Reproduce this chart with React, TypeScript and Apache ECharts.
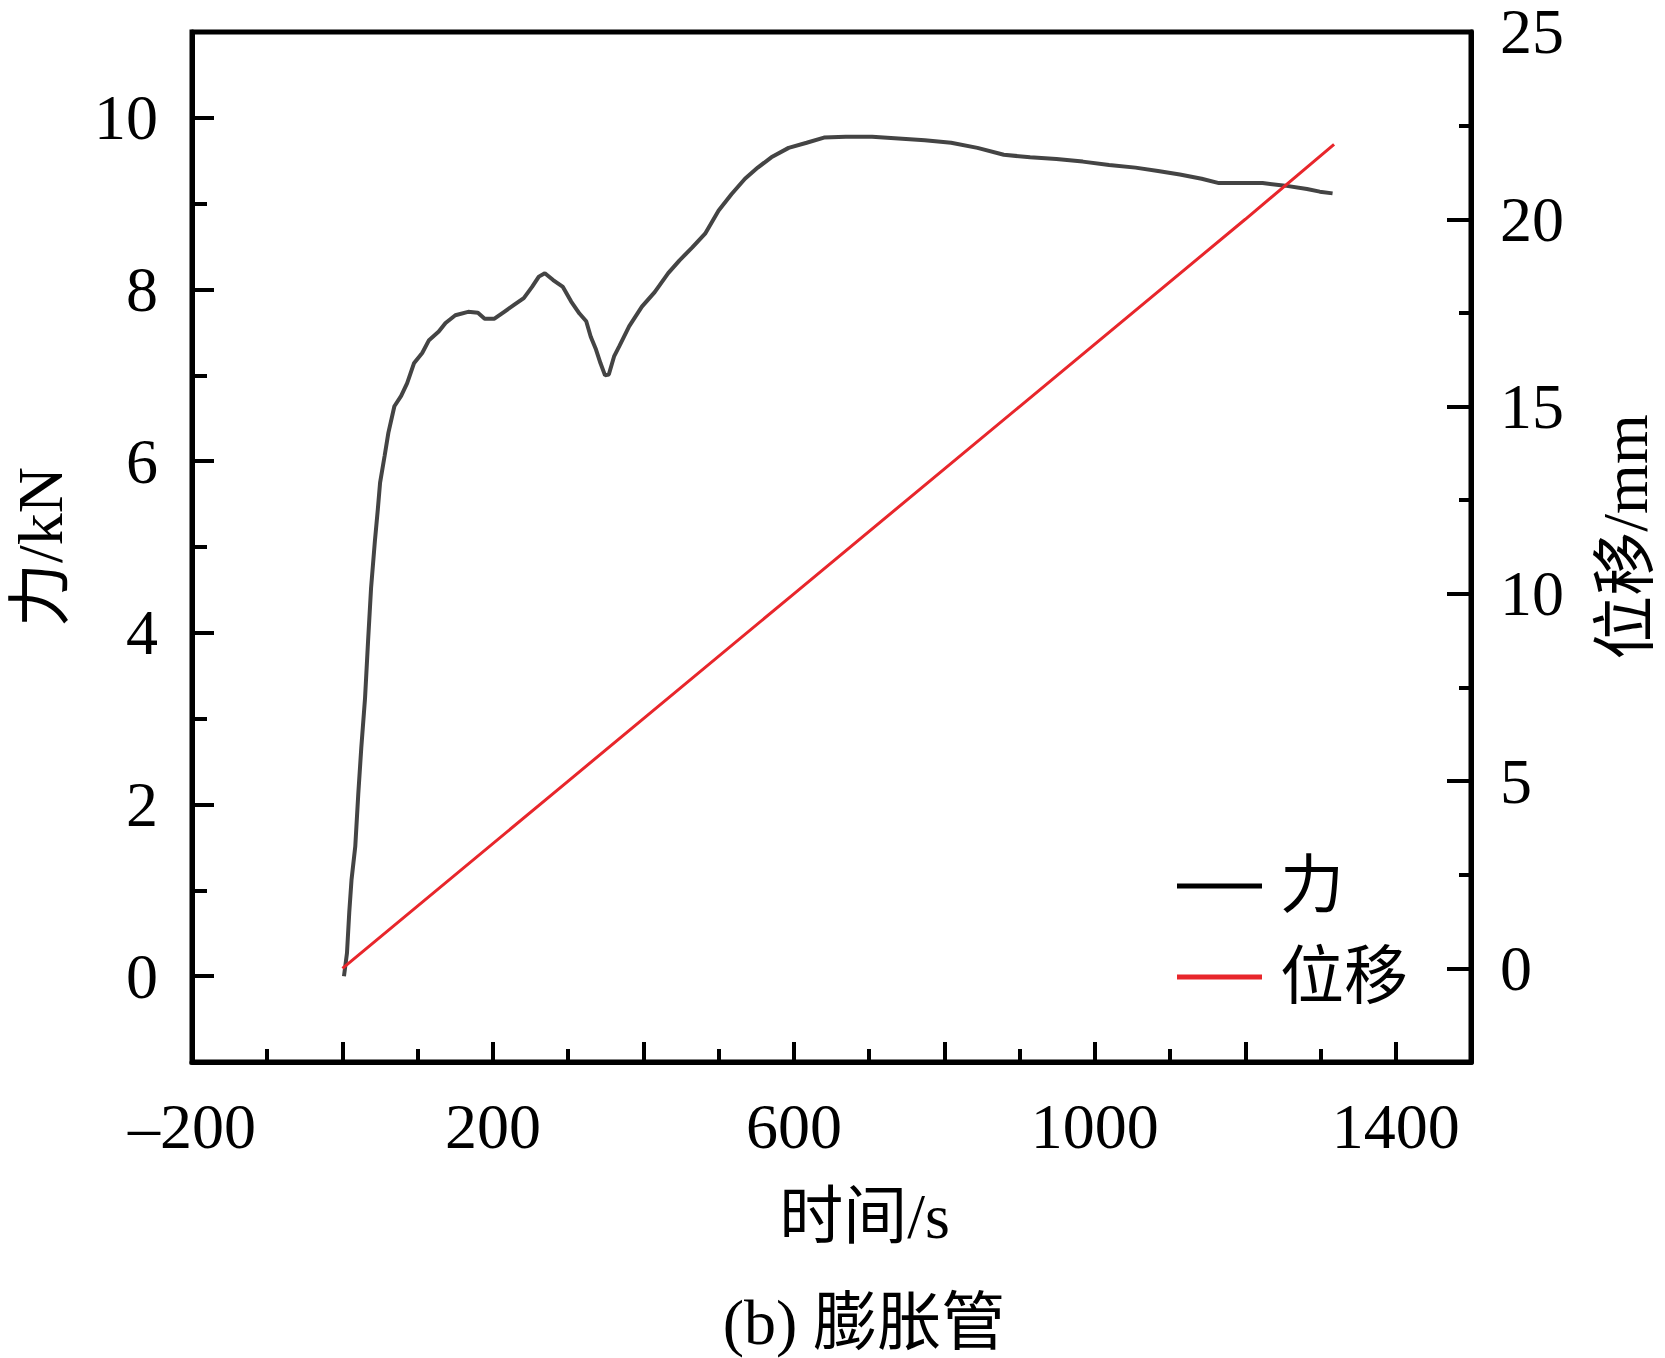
import React, { useEffect, useRef } from "react";
import * as echarts from "echarts";

// Force curve (time in s, force in kN)
const forceTime = [
  2, 6, 9, 12, 17, 21, 25, 30, 34, 38, 43, 47, 50, 56, 61, 69, 78, 86, 95, 106,
  115, 128, 137, 150, 167, 180, 189, 202, 215, 228, 241, 252, 261, 269, 280, 293,
  304, 315, 324, 330, 337, 343, 349, 354, 361, 368, 381, 398, 415, 433, 448, 465,
  482, 500, 517, 535, 552, 570, 593, 617, 640, 669, 704, 739, 774, 809, 844, 879,
  914, 949, 984, 1019, 1054, 1084, 1113, 1142, 1165, 1194, 1223, 1253, 1282, 1299, 1316,
];
const forceValue = [
  0.0, 0.27, 0.74, 1.12, 1.51, 2.12, 2.66, 3.24, 3.9, 4.52, 5.06, 5.44, 5.75, 6.06, 6.33, 6.64, 6.76, 6.91, 7.14, 7.26,
  7.41, 7.51, 7.61, 7.7, 7.74, 7.73, 7.66, 7.66, 7.74, 7.82, 7.9, 8.03, 8.15, 8.19, 8.11, 8.03,
  7.86, 7.72, 7.63, 7.45, 7.3, 7.14, 7.0, 7.01, 7.22, 7.34, 7.57, 7.8, 7.97, 8.19, 8.34, 8.49,
  8.65, 8.92, 9.11, 9.29, 9.42, 9.54, 9.65, 9.71, 9.77, 9.78, 9.78, 9.76, 9.74, 9.71, 9.65, 9.57,
  9.54, 9.52, 9.49, 9.45, 9.42, 9.38, 9.34, 9.29, 9.24, 9.24, 9.24, 9.21, 9.17, 9.14, 9.12,
];

// Displacement curve (time in s, displacement in mm)
const dispTime = [0, 300, 600, 900, 1200, 1318];
const dispValue = [0, 5, 10, 15, 20, 22];

// Axis ticks / labels
const xLabelValues = [-200, 200, 600, 1000, 1400];
const leftMajorTicks = [0, 2, 4, 6, 8, 10];
const leftMinorTicks = [1, 3, 5, 7, 9];
const rightMajorTicks = [0, 5, 10, 15, 20, 25];
const rightMinorTicks = [2.5, 7.5, 12.5, 17.5, 22.5];

const seriesNames = ["力", "位移"];
const forceColor = "#444444";
const dispColor = "#e8262b";

const FONT = '"Liberation Serif", "Times New Roman", "Noto Sans CJK SC", serif';
const FS = 64;

export default function App() {
  const ref = useRef<HTMLDivElement>(null);

  useEffect(() => {
    document.body.style.margin = "0";
    if (!ref.current) return;
    const chart = echarts.init(ref.current, undefined, { renderer: "svg" });

    const forceData = forceTime.map((t, i) => [t, forceValue[i]]);
    const dispData = dispTime.map((t, i) => [t, dispValue[i]]);

    const text = { fontFamily: FONT, fontSize: FS, color: "#000" };
    const axisLine = { show: true, onZero: false, lineStyle: { color: "#000", width: 5 } };

    const minorY = (min: number, max: number, pos: string, vals: number[], len: number) => ({
      type: "value",
      min,
      max,
      position: pos,
      axisLine: { show: false, onZero: false },
      axisLabel: { show: false },
      splitLine: { show: false },
      axisTick: {
        show: true,
        inside: true,
        length: len,
        customValues: vals,
        lineStyle: { color: "#000", width: 4 },
      },
    });

    chart.setOption({
      animation: false,
      backgroundColor: "#fff",
      grid: {
        left: 185,
        top: 26,
        width: 1294,
        height: 1036,
        show: true,
        borderColor: "#000",
        borderWidth: 5,
        backgroundColor: "transparent",
      },
      legend: {
        orient: "vertical",
        left: 1172,
        top: 849,
        itemWidth: 85,
        itemHeight: 5,
        itemGap: 27,
        icon: "rect",
        textStyle: { ...text, padding: [0, 0, 0, 13] },
        data: [
          { name: seriesNames[0], icon: "rect", itemStyle: { color: "#000" } },
          { name: seriesNames[1], icon: "rect", itemStyle: { color: dispColor } },
        ],
      },
      xAxis: {
        type: "value",
        min: -200,
        max: 1500,
        interval: 200,
        name: "时间/s",
        nameLocation: "middle",
        nameGap: 122,
        nameTextStyle: { ...text, padding: [0, 0, 0, 66] },
        axisLine,
        splitLine: { show: false },
        axisTick: { show: true, inside: true, length: 20, lineStyle: { color: "#000", width: 4 } },
        minorTick: { show: true, splitNumber: 2, length: 13, lineStyle: { color: "#000", width: 4 } },
        axisLabel: {
          ...text,
          margin: 32,
          formatter: (v: number) =>
            xLabelValues.indexOf(v) >= 0 ? (v < 0 ? "\u2013" + Math.abs(v) : String(v)) : "",
        },
      },
      yAxis: [
        {
          type: "value",
          min: -1,
          max: 11,
          position: "left",
          name: "力/kN",
          nameLocation: "middle",
          nameRotate: 90,
          nameGap: 120,
          nameTextStyle: text,
          axisLine,
          splitLine: { show: false },
          axisTick: {
            show: true,
            inside: true,
            length: 22,
            customValues: leftMajorTicks,
            lineStyle: { color: "#000", width: 4 },
          },
          axisLabel: { ...text, margin: 34, customValues: leftMajorTicks },
        },
        minorY(-1, 11, "left", leftMinorTicks, 15),
        {
          type: "value",
          min: -2.5,
          max: 25,
          position: "right",
          name: "位移/mm",
          nameLocation: "middle",
          nameRotate: 90,
          nameGap: 122,
          nameTextStyle: { ...text, padding: [0, 0, 0, 20] },
          axisLine,
          splitLine: { show: false },
          axisTick: {
            show: true,
            inside: true,
            length: 24,
            customValues: rightMajorTicks,
            lineStyle: { color: "#000", width: 4 },
          },
          axisLabel: { ...text, margin: 29, customValues: rightMajorTicks },
        },
        minorY(-2.5, 25, "right", rightMinorTicks, 12),
      ],
      graphic: [
        {
          type: "text",
          x: 864,
          y: 1322,
          style: {
            text: "(b) 膨胀管",
            fontFamily: FONT,
            fontSize: FS,
            fill: "#000",
            textAlign: "center",
            textVerticalAlign: "middle",
          },
        },
      ],
      series: [
        {
          name: seriesNames[0],
          type: "line",
          yAxisIndex: 0,
          data: forceData,
          symbol: "none",
          lineStyle: { color: forceColor, width: 4 },
          itemStyle: { color: forceColor },
        },
        {
          name: seriesNames[1],
          type: "line",
          yAxisIndex: 2,
          data: dispData,
          symbol: "none",
          lineStyle: { color: dispColor, width: 3 },
          itemStyle: { color: dispColor },
        },
      ],
    });

    return () => chart.dispose();
  }, []);

  return <div ref={ref} style={{ width: 1665, height: 1358 }} />;
}
